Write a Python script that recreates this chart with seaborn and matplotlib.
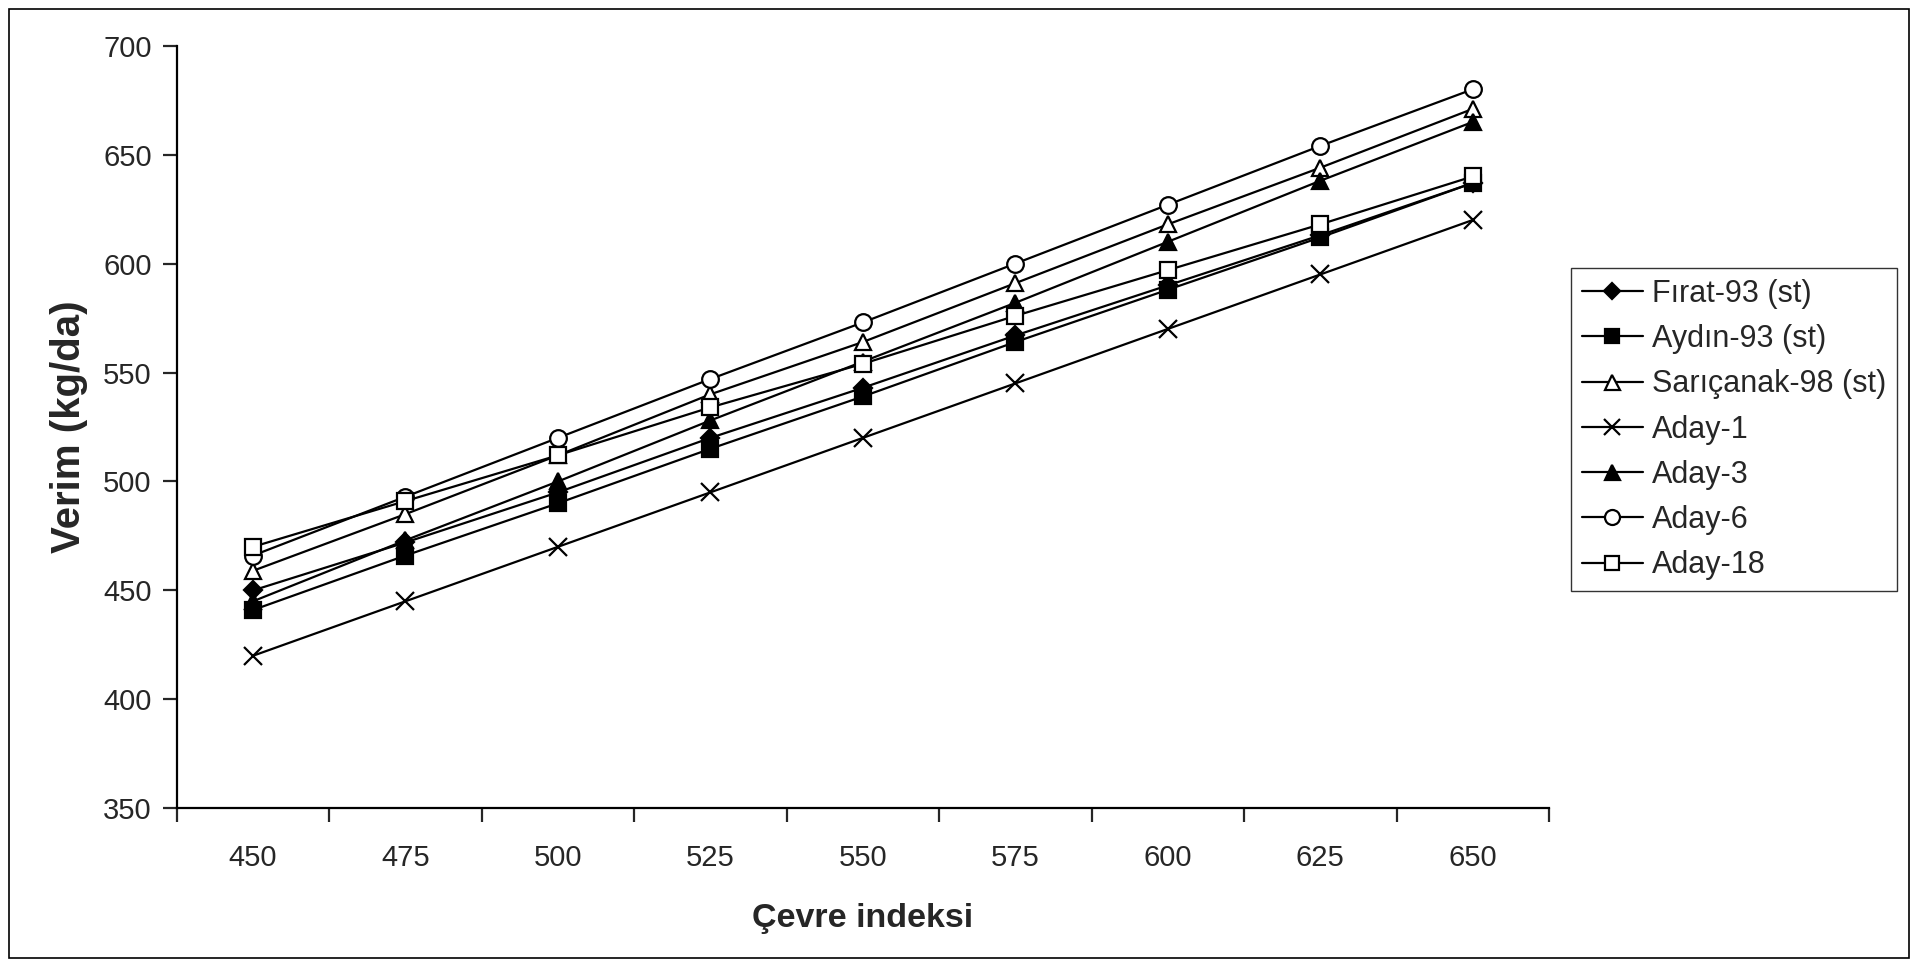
import matplotlib
matplotlib.use("Agg")
import matplotlib.pyplot as plt
import seaborn as sns
import pandas as pd
from matplotlib.patches import Rectangle

# ---- data ----
categories = ["450", "475", "500", "525", "550", "575", "600", "625", "650"]
firat_93 = [450, 472, 495, 520, 543, 567, 590, 613, 637]
aydin_93 = [441, 466, 490, 515, 539, 564, 588, 612, 637]
saricanak_98 = [459, 485, 512, 540, 564, 591, 618, 644, 671]
aday_1 = [420, 445, 470, 495, 520, 545, 570, 595, 620]
aday_3 = [445, 473, 500, 528, 555, 582, 610, 638, 665]
aday_6 = [466, 493, 520, 547, 573, 600, 627, 654, 680]
aday_18 = [470, 491, 512, 534, 554, 576, 597, 618, 640]

series_names = ["Fırat-93 (st)", "Aydın-93 (st)", "Sarıçanak-98 (st)",
                "Aday-1", "Aday-3", "Aday-6", "Aday-18"]
series_values = [firat_93, aydin_93, saricanak_98, aday_1, aday_3, aday_6, aday_18]

styles = {
    "Fırat-93 (st)": dict(marker="D", mfc="black", ms=9),
    "Aydın-93 (st)": dict(marker="s", mfc="black", ms=11),
    "Sarıçanak-98 (st)": dict(marker="^", mfc="white", ms=12),
    "Aday-1": dict(marker="x", mfc="black", ms=13),
    "Aday-3": dict(marker="^", mfc="black", ms=12),
    "Aday-6": dict(marker="o", mfc="white", ms=12),
    "Aday-18": dict(marker="s", mfc="white", ms=11),
}

rows = []
for name, vals in zip(series_names, series_values):
    for c, v in zip(categories, vals):
        rows.append({"Çevre indeksi": c, "Verim": v, "Genotip": name})
df = pd.DataFrame(rows)

sns.set_theme(style="white")
plt.rcParams["font.family"] = ["Liberation Sans", "DejaVu Sans"]

fig = plt.figure(figsize=(19.28, 9.67), dpi=100)
ax = fig.add_axes([176.7 / 1928, 1 - 808.3 / 967, (1549 - 176.7) / 1928, (808.3 - 45.7) / 967])

for name in series_names:
    st = styles[name]
    sub = df[df["Genotip"] == name]
    sns.lineplot(data=sub, x="Çevre indeksi", y="Verim", ax=ax, color="black",
                 linewidth=1.6, marker=st["marker"], markersize=st["ms"],
                 markerfacecolor=st["mfc"], markeredgecolor="black",
                 markeredgewidth=1.6, sort=False, errorbar=None, label=name)

ax.set_xlim(-0.5, len(categories) - 0.5)
ax.set_ylim(350, 700)
ax.set_yticks(range(350, 701, 50))
ax.set_xticks(range(len(categories)))
ax.set_xticklabels(categories)
ax.set_xticks([i - 0.5 for i in range(len(categories) + 1)], minor=True)
ax.tick_params(axis="x", which="major", length=0, pad=26, labelsize=21)
ax.tick_params(axis="x", which="minor", length=10, width=1.6, direction="out", bottom=True)
ax.tick_params(axis="y", which="major", length=10, width=1.6, direction="out", left=True, labelsize=21, pad=8)

for s in ["top", "right"]:
    ax.spines[s].set_visible(False)
for s in ["left", "bottom"]:
    ax.spines[s].set_color("black")
    ax.spines[s].set_linewidth(1.6)

ax.set_xlabel("Çevre indeksi", fontsize=24.5, fontweight="bold", labelpad=22)
ax.set_ylabel("Verim (kg/da)", fontsize=29, fontweight="bold", labelpad=11)
ax.grid(False)

leg = ax.legend(loc="upper left", bbox_to_anchor=(1571 / 1928, 1 - 268 / 967),
                bbox_transform=fig.transFigure, fontsize=22, frameon=True,
                fancybox=False, edgecolor="black", handlelength=2.0,
                handletextpad=0.3, labelspacing=0.5, borderpad=0.35,
                borderaxespad=0)
leg.get_frame().set_linewidth(1.0)
for h in leg.legend_handles:
    h.set_markersize(h.get_markersize() * 0.9)

fig.patches.append(Rectangle((9 / 1928, 1 - 958 / 967), (1909 - 9) / 1928, (958 - 9) / 967,
                             transform=fig.transFigure, fill=False, edgecolor="black",
                             linewidth=1.2))

fig.savefig("out.png", dpi=100)
